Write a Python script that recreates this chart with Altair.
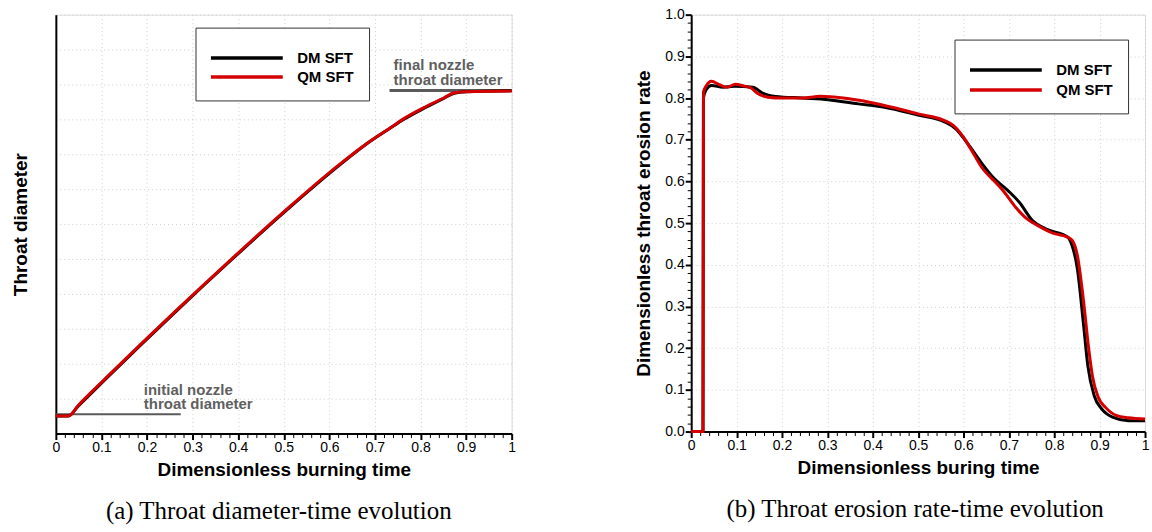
import altair as alt
import pandas as pd

SANS = "Liberation Sans"
SERIF = "Liberation Serif"

# ---------------- panel (a): throat diameter (arbitrary units) ----------------
a_time = [0.0, 0.027, 0.05, 0.109, 0.266, 0.383, 0.5, 0.625, 0.68, 0.734, 0.761, 0.8125, 0.852, 0.874, 0.9, 1.0]
a_dm = [0.50, 0.50, 0.80, 1.56, 3.53, 4.95, 6.33, 7.72, 8.28, 8.75, 8.98, 9.35, 9.61, 9.75, 9.79, 9.82]
a_qm = [0.50, 0.50, 0.82, 1.58, 3.55, 4.97, 6.35, 7.74, 8.29, 8.76, 9.00, 9.37, 9.62, 9.76, 9.79, 9.81]

ref_start = [0.0, 0.732]
ref_end = [0.274, 1.0]
ref_level = [0.55, 9.83]
ref_width = [2, 3]
ref_text = ["initial nozzle\nthroat diameter", "final nozzle\nthroat diameter"]
ref_text_t = [0.193, 0.741]
ref_text_level = [1.118, 10.41]

# ---------------- panel (b): dimensionless throat erosion rate ----------------
b_dm_t = [0, 0.026, 0.027, 0.033, 0.045, 0.07, 0.095, 0.136, 0.157, 0.186, 0.244, 0.302,
          0.368, 0.426, 0.5, 0.558, 0.583, 0.607, 0.64, 0.665, 0.698, 0.723, 0.752, 0.781,
          0.83, 0.838, 0.851, 0.864, 0.874, 0.888, 0.905, 0.93, 0.963, 1.0]
b_dm_v = [0, 0, 0.80, 0.82, 0.83, 0.826, 0.828, 0.826, 0.812, 0.804, 0.80, 0.796,
          0.786, 0.778, 0.759, 0.743, 0.726, 0.694, 0.644, 0.61, 0.578, 0.55, 0.506, 0.486,
          0.466, 0.45, 0.39, 0.262, 0.158, 0.086, 0.054, 0.034, 0.026, 0.026]
b_qm_t = [0, 0.026, 0.027, 0.033, 0.045, 0.062, 0.079, 0.097, 0.116, 0.132, 0.145, 0.169,
          0.202, 0.244, 0.285, 0.335, 0.393, 0.45, 0.5, 0.558, 0.578, 0.6, 0.616, 0.64,
          0.674, 0.69, 0.715, 0.74, 0.764, 0.797, 0.83, 0.84, 0.851, 0.864, 0.876, 0.884,
          0.897, 0.913, 0.938, 0.963, 1.0]
b_qm_v = [0, 0, 0.814, 0.829, 0.840, 0.832, 0.826, 0.833, 0.829, 0.824, 0.812, 0.802,
          0.800, 0.800, 0.804, 0.800, 0.790, 0.776, 0.762, 0.746, 0.734, 0.706, 0.678, 0.634,
          0.594, 0.574, 0.538, 0.510, 0.494, 0.476, 0.466, 0.458, 0.422, 0.318, 0.198, 0.134,
          0.082, 0.058, 0.038, 0.033, 0.030]

series = ["DM SFT", "QM SFT"]
series_colors = ["#000000", "#d40000"]

# ---------------- tables ----------------
df_a = pd.DataFrame({
    "t": a_time + a_time,
    "v": a_dm + a_qm,
    "s": [series[0]] * len(a_time) + [series[1]] * len(a_time),
})
df_ref = pd.DataFrame({"t": ref_start, "t1": ref_end, "v": ref_level, "w": ref_width})
df_txt = pd.DataFrame({"t": ref_text_t, "v": ref_text_level, "label": ref_text})
df_b = pd.DataFrame({
    "t": b_dm_t + b_qm_t,
    "v": b_dm_v + b_qm_v,
    "s": [series[0]] * len(b_dm_t) + [series[1]] * len(b_qm_t),
})

minor_vals = [round(i * 0.02, 2) for i in range(51)]
is_major = "abs(datum.value * 10 - round(datum.value * 10)) < 0.001"
GRID = dict(grid=True, gridColor="#cfcfcf", gridDash=[1, 3], gridWidth=1)
TITLE = dict(titleFont=SANS, titleFontSize=19, titleFontWeight="bold", titleColor="black")


def x_axis(title):
    return alt.Axis(
        title=title, values=minor_vals,
        labelExpr=f"{is_major} ? ((datum.value == 0 || datum.value == 1) ? format(datum.value, 'd') : format(datum.value, '.1f')) : ''",
        labelFont=SANS, labelFontSize=14, labelColor="black", labelPadding=1,
        labelOverlap=False, labelFlush=False,
        tickColor="black",
        tickSize={"condition": {"test": is_major, "value": 6}, "value": 4},
        tickWidth={"condition": {"test": is_major, "value": 2}, "value": 1},
        domainColor="black", domainWidth=2,
        gridOpacity={"condition": {"test": is_major, "value": 1}, "value": 0},
        titlePadding=6, **TITLE, **GRID,
    )


def legend(x, y, row_gap):
    return alt.Legend(
        title=" ", titleFontSize=6, titlePadding=2,
        orient="none", legendX=x, legendY=y,
        symbolType="M-7,0H65", symbolSize=4, symbolStrokeWidth=3.5,
        labelFont=SANS, labelFontWeight="bold", labelFontSize=15, labelColor="black",
        labelOffset=72, rowPadding=row_gap, padding=15,
        strokeColor="#333333", fillColor="white",
    )


color_scale = alt.Scale(domain=series, range=series_colors)
xs = alt.Scale(domain=[0, 1], nice=False, zero=False)
ya_scale = alt.Scale(domain=[0, 12], nice=False, zero=False)
ya_axis = alt.Axis(title="Throat diameter", values=list(range(13)), labels=False,
                   ticks=False, domainColor="black", domainWidth=2,
                   titlePadding=25, **TITLE, **GRID)
xa_axis = x_axis("Dimensionless burning time")

# ---------------- panel (a) ----------------
a_lines = alt.Chart(df_a).mark_line(strokeWidth=3, interpolate="monotone").encode(
    x=alt.X("t:Q", scale=xs, axis=xa_axis),
    y=alt.Y("v:Q", scale=ya_scale, axis=ya_axis),
    color=alt.Color("s:N", scale=color_scale, legend=legend(140, 13, 3)),
)
a_rules = alt.Chart(df_ref).mark_rule(color="#5a5a5a").encode(
    x=alt.X("t:Q", scale=xs, axis=xa_axis), x2="t1:Q",
    y=alt.Y("v:Q", scale=ya_scale, axis=ya_axis),
    strokeWidth=alt.StrokeWidth("w:Q", scale=None),
)
a_text = alt.Chart(df_txt).mark_text(
    align="left", baseline="alphabetic", lineBreak="\n", lineHeight=15,
    font=SANS, fontSize=15, fontWeight="bold", color="#606060",
).encode(
    x=alt.X("t:Q", scale=xs, axis=xa_axis),
    y=alt.Y("v:Q", scale=ya_scale, axis=ya_axis),
    text="label:N",
)

panel_a = alt.layer(a_rules, a_lines, a_text).properties(
    width=457, height=420,
    title=alt.TitleParams("(a) Throat diameter-time evolution", orient="bottom",
                          font=SERIF, fontSize=25, fontWeight="normal", color="black",
                          offset=20, anchor="middle", frame="group", dx=-5),
)

# ---------------- panel (b) ----------------
panel_b = alt.Chart(df_b).mark_line(strokeWidth=3, interpolate="monotone").encode(
    x=alt.X("t:Q", scale=xs, axis=x_axis("Dimensionless buring time")),
    y=alt.Y("v:Q", scale=alt.Scale(domain=[0, 1], nice=False),
            axis=alt.Axis(
                title="Dimensionless throat erosion rate", values=minor_vals,
                labelExpr=f"{is_major} ? format(datum.value, '.1f') : ''",
                labelFont=SANS, labelFontSize=14, labelColor="black", labelPadding=1,
                labelOverlap=False, labelFlush=False,
                tickColor="black",
                tickSize={"condition": {"test": is_major, "value": 6}, "value": 4},
                tickWidth={"condition": {"test": is_major, "value": 2}, "value": 1},
                domainColor="black", domainWidth=2,
                gridOpacity={"condition": {"test": is_major, "value": 1}, "value": 0},
                titlePadding=11, **TITLE, **GRID)),
    color=alt.Color("s:N", scale=color_scale, legend=legend(264, 25, 4)),
).properties(
    width=455, height=418,
    title=alt.TitleParams("(b) Throat erosion rate-time evolution", orient="bottom",
                          font=SERIF, fontSize=25, fontWeight="normal", color="black",
                          offset=20, anchor="middle", frame="group", dx=-3),
)

chart = alt.HConcatChart(
    hconcat=[panel_a, panel_b], spacing=180, bounds="flush",
    resolve=alt.Resolve(legend=alt.LegendResolveMap(color="independent")),
    padding={"left": 11, "top": 6, "right": 0, "bottom": 0},
).configure_view(stroke=None).configure(background="white")

chart.save("out.html", embed_options={"renderer": "svg", "actions": False})
